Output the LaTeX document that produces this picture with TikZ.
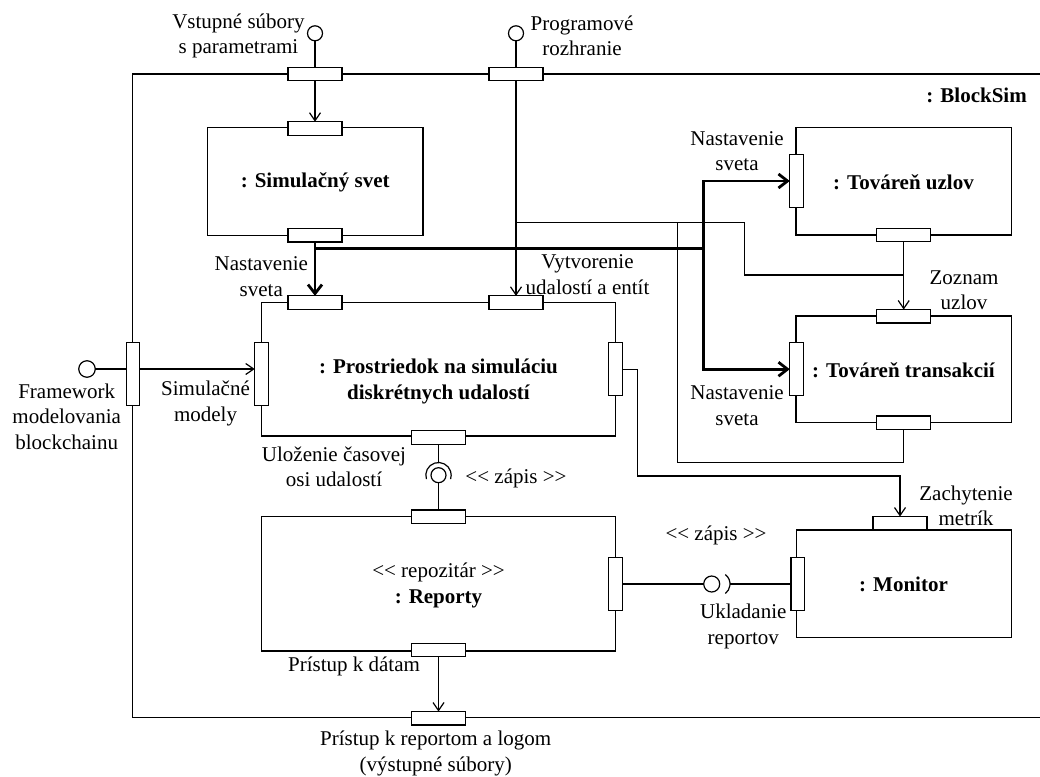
\documentclass[tikz,border=0pt]{standalone}
\usepackage{fontspec}
\setmainfont{Liberation Serif}
\usetikzlibrary{arrows.meta,calc}
\begin{document}
\tikzset{
 ln/.style={line width=1.2pt},
 thk/.style={line width=2.8pt},
 comp/.style={draw, line width=1.2pt, inner sep=0pt, outer sep=0pt},
 hport/.style={draw, fill=white, line width=1.2pt, minimum width=54pt, minimum height=13.5pt, inner sep=0pt, outer sep=0pt},
 vport/.style={draw, fill=white, line width=1.2pt, minimum width=13.5pt, minimum height=53pt, inner sep=0pt, outer sep=0pt},
 lbl/.style={inner sep=0pt, align=center, font=\fontsize{21}{25.5}\selectfont},
 blbl/.style={inner sep=0pt, align=center, font=\fontsize{21}{25.5}\selectfont\bfseries},
 tarr/.style={ln, -{Straight Barb[length=8pt,width=11pt]}},
 karr/.style={thk, -{Straight Barb[length=9pt,width=14pt]}},
 lolly/.style={circle, draw, fill=white, line width=1.2pt, minimum size=15pt, inner sep=0pt, outer sep=0pt},
 ballnode/.style={circle, draw, fill=white, line width=1.2pt, minimum size=15pt, inner sep=0pt, outer sep=0pt},
}
\begin{tikzpicture}[x=1pt,y=-1pt]
\useasboundingbox (0,0) rectangle (1040,776);
% outer component frame
\draw[ln] (1040,74) -| (132.5,717.7) -- (1040,717.7);
% component boxes
\node[comp, minimum width=215.5pt, minimum height=108pt] (sim) at (315.2,181.5) {};
\node[comp, minimum width=354pt, minimum height=133.5pt] (prost) at (438.5,369.2) {};
\node[comp, minimum width=215.5pt, minimum height=107.3pt] (tu) at (903.75,181.35) {};
\node[comp, minimum width=215.5pt, minimum height=106.7pt] (tt) at (903.75,369.35) {};
\node[comp, minimum width=354pt, minimum height=134.3pt] (rep) at (438.5,583.85) {};
\node[comp, minimum width=215pt, minimum height=107.3pt] (mon) at (904.2,583.65) {};
% box labels
\node[blbl] (simL) at (315.2,182) {: Simulačný svet};
\node[blbl] (prostL) at (438.5,381.5) {: Prostriedok na simuláciu\\diskrétnych udalostí};
\node[blbl] (tuL) at (903.5,182) {: Továreň uzlov};
\node[blbl] (ttL) at (903.5,370) {: Továreň transakcií};
\node[lbl] (repL) at (438.5,585.5) {<{}< repozitár >{}>\\\textbf{: Reporty}};
\node[blbl] (monL) at (903.5,584) {: Monitor};
\node[blbl, anchor=east] (bsL) at (1027,95) {: BlockSim};
% ports
\node[hport] (vinP) at (315,74) {};
\node[hport] (apiP) at (516,74) {};
\node[vport, minimum height=63pt] (fwP) at (133,374) {};
\node[hport] (simT) at (315,128.5) {};
\node[hport] (simB) at (315,235.3) {};
\node[hport] (prT1) at (315,302.6) {};
\node[hport] (prT2) at (516,302.6) {};
\node[vport, minimum height=63pt] (prL) at (261.5,374) {};
\node[vport] (prR) at (615.5,369.2) {};
\node[hport] (prB) at (438.5,437.5) {};
\node[vport] (tuLp) at (796.5,181) {};
\node[hport] (tuB) at (903.7,235) {};
\node[hport] (ttT) at (903.7,316.3) {};
\node[vport] (ttLp) at (796.5,369.2) {};
\node[hport] (ttB) at (903.7,422.7) {};
\node[hport] (repT) at (438.5,516.7) {};
\node[vport] (repR) at (615.5,584) {};
\node[hport] (repB) at (438.5,650) {};
\node[hport] (monT) at (900,523.3) {};
\node[vport] (monLp) at (797.7,584) {};
\node[hport] (outP) at (438.5,718.3) {};
% lollipops
\node[lolly] (vinC) at (315,33.3) {};
\node[lolly] (apiC) at (516,33.3) {};
\node[lolly, minimum size=16.5pt] (fwC) at (87,369) {};
% connectors
\draw[ln] (vinC.south) -- (vinP.north);
\draw[tarr] (vinP.south) -- (simT.north);
\draw[ln] (apiC.south) -- (apiP.north);
\draw[tarr] (apiP.south) -- (prT2.north);
\coordinate (j1) at (516,222.3);
\coordinate (j2) at (677.5,222.3);
\coordinate (zj) at (903.7,275);
\draw[ln] (j1) -- (744.5,222.3) -- (744.5,275) -- (zj);
\draw[ln] (j2) -- (677.5,462.7) -| (ttB.south);
\draw[tarr] (tuB.south) -- (ttT.north);
% thick world-setting connectors
\coordinate (k1) at (315,248.3);
\coordinate (k2) at (703.2,248.3);
\draw[karr] (simB.south) -- (prT1.north);
\draw[thk] (k1) -- (k2);
\draw[karr] (k2) |- (tuLp.west);
\draw[karr] (k2) |- (ttLp.west);
% framework
\draw[ln] (fwC.east) -- (fwC.east -| fwP.west);
\draw[tarr] (fwC.east -| fwP.east) -- (fwC.east -| prL.west);
% metrics
\draw[tarr] (prR.east) -| (637.5,476) -| (monT.north);
% ball and socket (vertical)
\coordinate (bs1) at (438.5,475.2);
\draw[ln] (prB.south) -- ($(bs1)+(90:12.7pt)$);
\draw[ln] ($(bs1)+(198:12.7pt)$) arc[start angle=198, end angle=-18, radius=12.7pt];
\node[ballnode] (ball1) at (bs1) {};
\draw[ln] (ball1.south) -- (repT.north);
% ball and socket (horizontal)
\coordinate (bs2) at (711.7,584);
\coordinate (sk2) at (718,584);
\node[ballnode, minimum size=16pt] (ball2) at (bs2) {};
\draw[ln] (repR.east) -- (ball2.west);
\draw[ln] ($(sk2)+(52:12pt)$) arc[start angle=52, end angle=-52, radius=12pt];
\draw[ln] ($(sk2)+(0:12pt)$) -- (monLp.west);
% output
\draw[tarr] (repB.south) -- (outP.north);
% labels
\node[lbl] (t1) at (238.5,35.8) {Vstupné súbory\\s parametrami};
\node[lbl] (t2) at (582,35.8) {Programové\\rozhranie};
\node[lbl] (t3) at (261.3,276.7) {Nastavenie\\sveta};
\node[lbl] (t4) at (587.5,274.7) {Vytvorenie\\udalostí a entít};
\node[lbl] (t5) at (737,151.2) {Nastavenie\\sveta};
\node[lbl] (t6) at (737,405.5) {Nastavenie\\sveta};
\node[lbl] (t7) at (964,290.3) {Zoznam\\uzlov};
\node[lbl] (t8) at (66.7,416.7) {Framework\\modelovania\\blockchainu};
\node[lbl] (t9) at (205.5,403.5) {Simulačné\\modely};
\node[lbl] (t10) at (334,466.7) {Uloženie časovej\\osi udalostí};
\node[lbl] (t11) at (516,478.3) {<{}< zápis >{}>};
\node[lbl] (t12) at (716,535) {<{}< zápis >{}>};
\node[lbl] (t13) at (743.3,626.2) {Ukladanie\\reportov};
\node[lbl] (t14) at (966,505.8) {Zachytenie\\metrík};
\node[lbl] (t15) at (354,666) {Prístup k dátam};
\node[lbl] (t16) at (435.7,753.3) {Prístup k reportom a logom\\(výstupné súbory)};
\end{tikzpicture}
\end{document}
